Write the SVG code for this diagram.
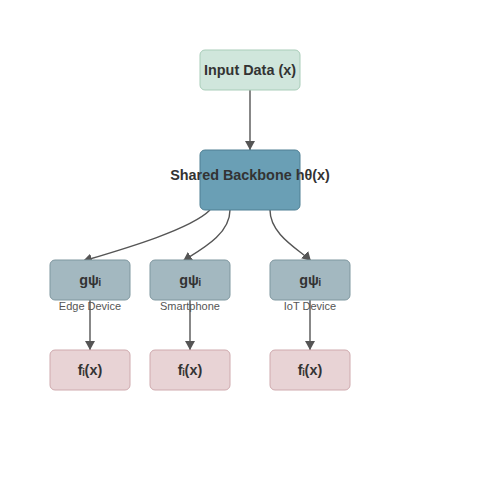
<svg xmlns="http://www.w3.org/2000/svg" width="500" height="500" viewBox="0 0 500 500">
<defs>
<marker id="arr" viewBox="0 0 10 10" refX="10" refY="5" markerWidth="9" markerHeight="10" markerUnits="userSpaceOnUse" orient="auto" preserveAspectRatio="none">
<path d="M0,0 L10,5 L0,10 Z" fill="#555"/>
</marker>
<style>
.lbl{font-family:"Liberation Sans",Arial,sans-serif;font-weight:bold;font-size:14.4px;fill:#333;text-anchor:middle}
.sub{font-family:"Liberation Sans",Arial,sans-serif;font-size:11px;fill:#555;text-anchor:middle}
.edge{fill:none;stroke:#555;stroke-width:1.4;marker-end:url(#arr)}
.in{fill:#d0e6dc;stroke:#a9cdb9}
.bb{fill:#6a9fb5;stroke:#4e7f93}
.g{fill:#a3b8c0;stroke:#7f979f}
.f{fill:#e8d3d5;stroke:#cfaaae}
</style>
</defs>
<rect width="500" height="500" fill="#fff"/>
<g id="connectors">
<path class="edge" d="M250,90 L250,150"/>
<path class="edge" d="M210,210 C190,230 120,250 83,261"/>
<path class="edge" d="M230,210 C230,235 200,250 183,261"/>
<path class="edge" d="M270,210 C270,235 300,250 311,261"/>
<path class="edge" d="M90,300 L90,350"/>
<path class="edge" d="M190,300 L190,350"/>
<path class="edge" d="M310,300 L310,350"/>
</g>
<g id="input"><rect class="in" x="200" y="50" width="100" height="40" rx="5"/><text class="lbl" x="250" y="75">Input Data (x)</text></g>
<g id="backbone"><rect class="bb" x="200" y="150" width="100" height="60" rx="5"/><text class="lbl" x="250" y="180">Shared Backbone hθ(x)</text></g>
<g id="g1"><rect class="g" x="50" y="260" width="80" height="40" rx="5"/><text class="lbl" x="90" y="285">gψᵢ</text><text class="sub" x="90" y="310">Edge Device</text></g>
<g id="g2"><rect class="g" x="150" y="260" width="80" height="40" rx="5"/><text class="lbl" x="190" y="285">gψᵢ</text><text class="sub" x="190" y="310">Smartphone</text></g>
<g id="g3"><rect class="g" x="270" y="260" width="80" height="40" rx="5"/><text class="lbl" x="310" y="285">gψᵢ</text><text class="sub" x="310" y="310">IoT Device</text></g>
<g id="f1"><rect class="f" x="50" y="350" width="80" height="40" rx="5"/><text class="lbl" x="90" y="375">fᵢ(x)</text></g>
<g id="f2"><rect class="f" x="150" y="350" width="80" height="40" rx="5"/><text class="lbl" x="190" y="375">fᵢ(x)</text></g>
<g id="f3"><rect class="f" x="270" y="350" width="80" height="40" rx="5"/><text class="lbl" x="310" y="375">fᵢ(x)</text></g>
</svg>
